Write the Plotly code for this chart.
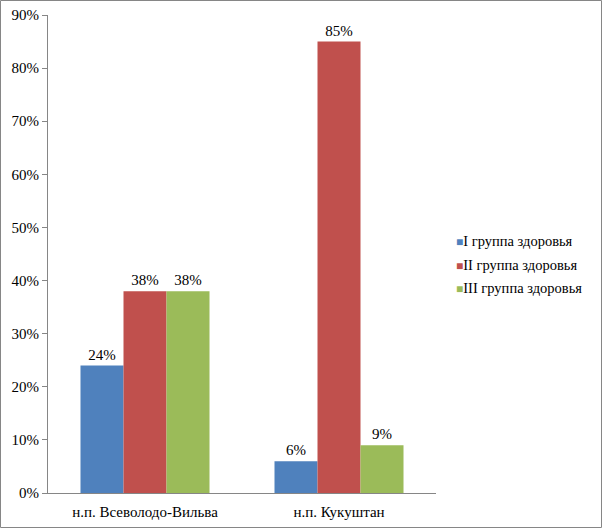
import plotly.graph_objects as go

categories = ["н.п. Всеволодо-Вильва", "н.п. Кукуштан"]
series_names = ["I группа здоровья", "II группа здоровья", "III группа здоровья"]
group1 = [24, 6]
group2 = [38, 85]
group3 = [38, 9]
colors = ["#4F81BD", "#C0504D", "#9BBB59"]

W, H = 602, 528
L, R, T, B = 48, 166, 15, 35
pw = W - L - R
ph = H - T - B
SERIF = "Liberation Serif, Times New Roman, serif"

fig = go.Figure()
for name, vals, c in zip(series_names, [group1, group2, group3], colors):
    fig.add_trace(go.Bar(
        x=categories, y=vals, name=name, marker=dict(color=c, line=dict(width=0)),
        text=[f"{v}%" for v in vals], textposition="outside", cliponaxis=False,
        textfont=dict(family=SERIF, size=15, color="#000000"),
        showlegend=False,
    ))

# legend drawn as annotations (compact Excel-style legend)
legend_rows_px = [241, 265, 288]
annotations = []
for name, c, ypx in zip(series_names, colors, legend_rows_px):
    annotations.append(dict(
        xref="paper", yref="paper", x=(454 - L) / pw, y=(H - B - ypx) / ph,
        xanchor="left", yanchor="middle", showarrow=False,
        text=f"<span style='color:{c};font-size:12px'>■</span>{name}",
        font=dict(family=SERIF, size=14.5, color="#000000"),
    ))

fig.update_layout(
    width=W, height=H,
    margin=dict(l=L, r=R, t=T, b=B, autoexpand=False),
    paper_bgcolor="white", plot_bgcolor="white",
    barmode="group", bargap=0.335, bargroupgap=0,
    font=dict(family=SERIF, size=15, color="#000000"),
    showlegend=False,
    annotations=annotations,
    xaxis=dict(showline=True, linecolor="#868686", linewidth=1, ticks="", showgrid=False,
               tickfont=dict(size=15), ticklabelstandoff=5),
    yaxis=dict(range=[0, 90], dtick=10, ticksuffix="%", showline=True, linecolor="#868686",
               linewidth=1, ticks="outside", ticklen=5, tickcolor="#868686", showgrid=False,
               zeroline=False, tickfont=dict(size=15)),
    shapes=[dict(type="rect", xref="paper", yref="paper",
                 x0=(-L + 0.5) / pw, x1=(W - L - 0.5) / pw,
                 y0=(-B + 0.5) / ph, y1=(H - B - 0.5) / ph,
                 line=dict(color="#868686", width=1), layer="below")],
)

fig.write_html("out.html", config={"displayModeBar": False},
               post_script="document.body.style.margin='0';document.body.style.overflow='hidden';")
